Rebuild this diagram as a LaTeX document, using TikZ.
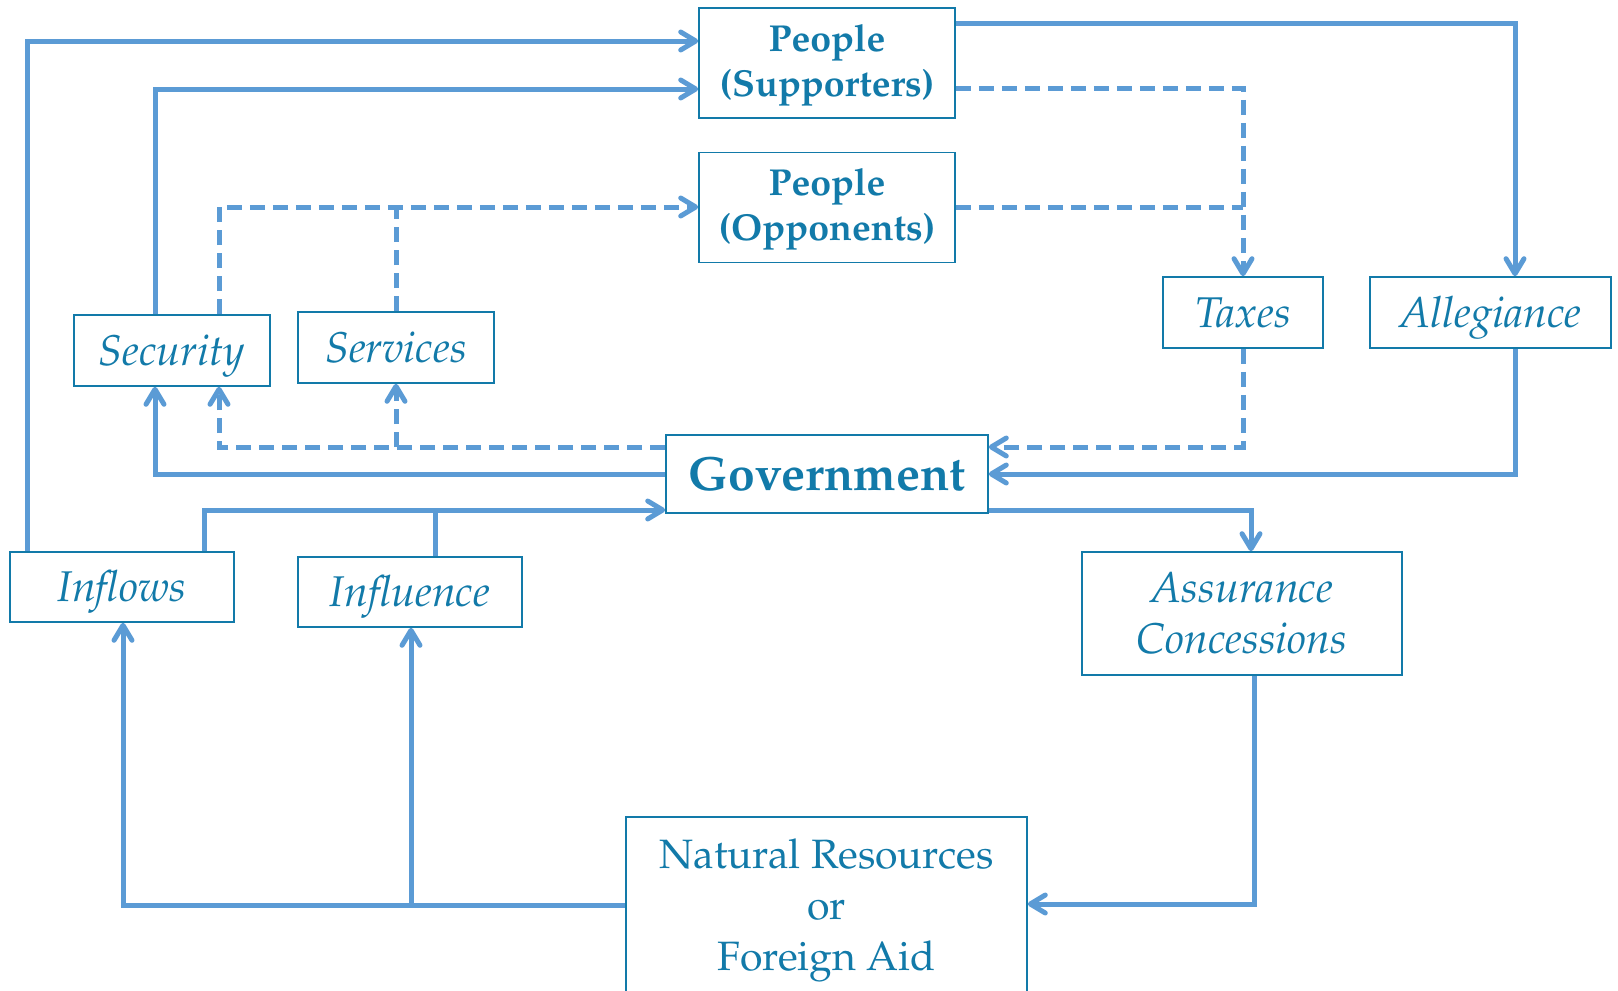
\documentclass[tikz,border=0pt]{standalone}
\usepackage[T1]{fontenc}
\usepackage{mathpazo}
\usetikzlibrary{arrows.meta}

\definecolor{boxblue}{HTML}{127AA9}
\definecolor{lineblue}{HTML}{5B9BD5}

\begin{document}
\begin{tikzpicture}[>={Straight Barb[length=15pt,width=18pt,line width=5pt,round]}, x=1pt, y=-1pt]

\tikzset{
  box/.style={draw=boxblue, line width=1.6pt, text=boxblue, align=center, inner sep=0pt},
  people/.style={box, minimum width=256pt, minimum height=110pt, text height=71pt, text depth=5pt, font=\fontsize{37.5}{45}\selectfont\bfseries},
  item/.style={box, minimum height=71pt, font=\fontsize{43}{51}\selectfont\itshape},
  oneline/.style={text height=34.4pt, text depth=4.7pt},
  ln/.style={draw=lineblue, line width=5pt},
  dln/.style={ln, dash pattern=on 15pt off 8pt},
  arr/.style={ln, ->},
  darr/.style={dln, ->}
}

\useasboundingbox (0,0) rectangle (1618,991);

% --- Nós ---

% Topo: o povo
\node[people] (sup) at (827,63)    {People\\(Supporters)};
\node[people] (opp) at (827,207.5) {People\\(Opponents)};

% Nível do meio
\node[item, oneline, minimum width=196pt] (sec) at (172,350.5)  {Security};
\node[item, oneline, minimum width=196pt] (ser) at (396,347.5)  {Services};
\node[item, oneline, minimum width=160pt] (tax) at (1243,312.5) {Taxes};
\node[item, oneline, minimum width=241pt] (alg) at (1490.5,312.5) {Allegiance};

% Governo no centro
\node[box, minimum width=322pt, minimum height=78pt, font=\fontsize{48}{56}\selectfont\bfseries] (gov) at (827,474) {Government};

% Em baixo
\node[item, oneline, minimum width=224pt, minimum height=70pt] (inf) at (122,587) {Inflows};
\node[item, oneline, minimum width=224pt, minimum height=70pt] (inl) at (410,592) {Influence};
\node[item, minimum width=320pt, minimum height=123pt] (ass) at (1242,613.5) {Assurance\\Concessions};
\node[box, minimum width=401pt, minimum height=186pt, font=\fontsize{41}{51}\selectfont] (nat) at (826.5,910) {Natural Resources\\or\\Foreign Aid};

% --- Pontos de dobra ---
\coordinate (kFar) at (27,41);
\coordinate (kSec) at (155,89);
\coordinate (kAlg) at (1515,23);
\coordinate (kTax) at (1243,88);
\coordinate (kOpp) at (1243,207);
\coordinate (kSecD) at (219,207);
\coordinate (kGovD) at (219,447);
\coordinate (kGovS) at (155,474);
\coordinate (kInf) at (204,510);
\coordinate (kInl) at (435,510);
\coordinate (kAss) at (1251,510);
\coordinate (kNatR) at (1254,904);
\coordinate (kNatL) at (123,905);
\coordinate (kNatM) at (411,905);

% --- Setas ---
% Para o povo
\draw[arr] (inf.north -| kFar) |- (sup.west |- kFar);
\draw[arr] (sec.north -| kSec) |- (sup.west |- kSec);
\draw[darr] (sec.north -| kSecD) |- (opp.west |- kSecD);
\draw[dln] (ser.north) -- (ser.north |- kSecD);

% Do povo
\draw[arr] (sup.east |- kAlg) -| (alg.north -| kAlg);
\draw[darr] (sup.east |- kTax) -| (tax.north);
\draw[dln] (opp.east |- kOpp) -- (kOpp);

% Do governo para security / services
\draw[darr] (gov.west |- kGovD) -| (sec.south -| kGovD);
\draw[darr] (ser.south |- kGovD) -- (ser.south);
\draw[arr] (gov.west |- kGovS) -| (sec.south -| kGovS);

% Para o governo
\draw[darr] (tax.south) |- (gov.east |- kGovD);
\draw[arr] (alg.south -| kAlg) |- (gov.east |- kGovS);
\draw[arr] (inf.north -| kInf) |- (gov.west |- kInf);
\draw[ln] (inl.north -| kInl) -- (kInl);

% Recursos
\draw[arr] (gov.east |- kAss) -| (ass.north -| kAss);
\draw[arr] (ass.south -| kNatR) |- (nat.east |- kNatR);
\draw[arr] (nat.west |- kNatL) -| (inf.south -| kNatL);
\draw[arr] (kNatM) -- (inl.south -| kNatM);

\end{tikzpicture}
\end{document}
